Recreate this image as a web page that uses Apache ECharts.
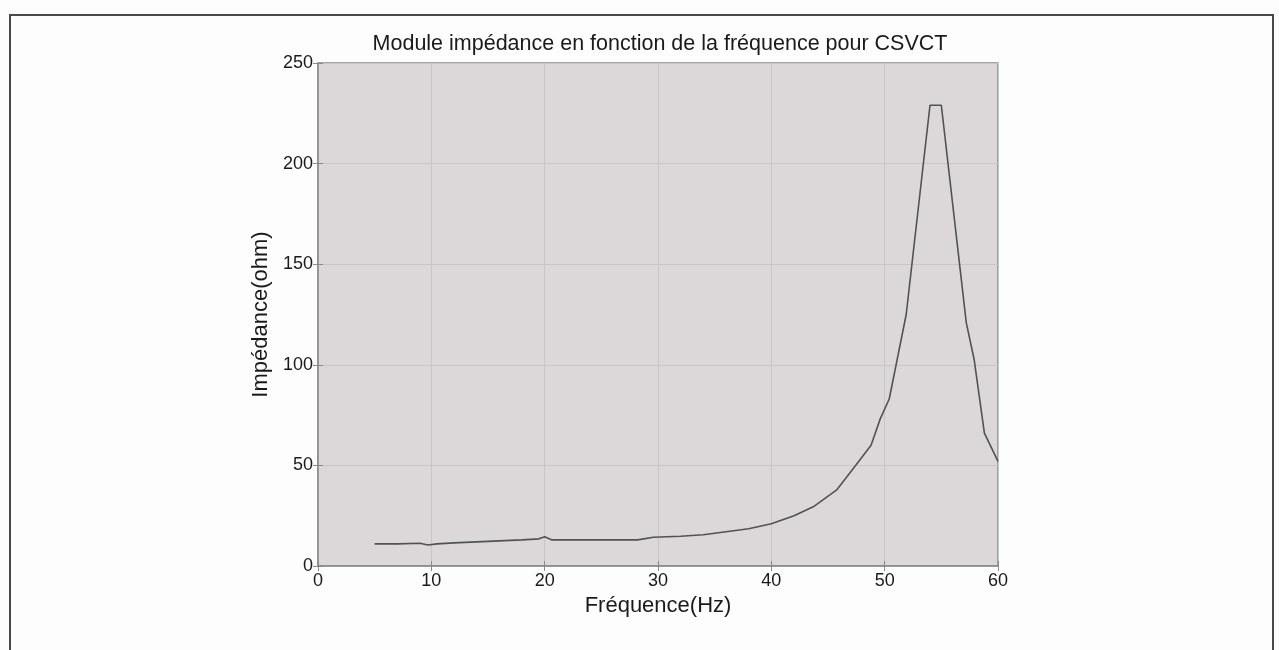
<!DOCTYPE html>
<html>
<head>
<meta charset="utf-8">
<script src="https://cdn.jsdelivr.net/npm/echarts@6/dist/echarts.min.js"></script>
<style>
html,body{margin:0;padding:0;background:#fdfdfd;}
#c{width:1279px;height:650px;}
</style>
</head>
<body>
<div id="c"></div>
<script>
var titleText = 'Module impédance en fonction de la fréquence pour CSVCT';
var xName = 'Fréquence(Hz)';
var yName = 'Impédance(ohm)';
var freq = [5, 7, 9, 9.7, 10.5, 12, 14, 16, 18, 19.5, 20, 20.6, 23, 26, 28.2, 29.6, 32, 34, 36, 38, 40, 42, 43.7, 45.8, 47.3, 48.8, 49.6, 50.4, 51.1, 51.9, 54, 55, 57.2, 57.9, 58.8, 60];
var imp  = [11, 11, 11.3, 10.4, 11, 11.5, 12, 12.5, 13, 13.5, 14.5, 13, 13, 13, 13, 14.3, 14.8, 15.5, 17, 18.5, 21, 25, 29.4, 38, 49, 60, 73, 83, 102.5, 125, 229, 229, 121, 102.5, 66, 52];
var xTicks = [0, 10, 20, 30, 40, 50, 60];
var yTicks = [0, 50, 100, 150, 200, 250];

var points = freq.map(function (f, i) { return [f, imp[i]]; });
var font = '"Liberation Sans", Arial, sans-serif';

var chart = echarts.init(document.getElementById('c'));
chart.setOption({
  animation: false,
  backgroundColor: '#fdfdfd',
  title: {
    text: titleText,
    left: 655,
    top: 28,
    textAlign: 'center',
    textStyle: { fontFamily: font, fontSize: 21.5, fontWeight: 'normal', color: '#1a1a1a' }
  },
  graphic: [
    { type: 'polyline', shape: { points: [[10, 650], [10, 15], [1273, 15], [1273, 650]] },
      style: { stroke: '#4a4a4a', lineWidth: 2, fill: null }, z: 10 }
  ],
  grid: [{
    left: 318, right: 281, top: 63, bottom: 84,
    show: true, backgroundColor: '#dcd8da', borderColor: '#8a8a8a', borderWidth: 1.5
  }],
  xAxis: [{
    type: 'value', min: xTicks[0], max: xTicks[xTicks.length - 1], interval: 10,
    name: xName, nameLocation: 'middle', nameGap: 24,
    nameTextStyle: { fontFamily: font, fontSize: 22, color: '#1a1a1a' },
    axisLine: { show: true, lineStyle: { color: '#8a8a8a', width: 1.5 } },
    axisTick: { show: true, inside: true, length: 5, lineStyle: { color: '#8a8a8a' } },
    axisLabel: { fontFamily: font, fontSize: 18, color: '#1a1a1a', margin: 6 },
    splitLine: { show: true, lineStyle: { color: '#c9c5c7', width: 1 } }
  }, {
    type: 'value', position: 'top', min: xTicks[0], max: xTicks[xTicks.length - 1], interval: 10,
    axisLine: { show: false },
    axisTick: { show: true, inside: true, length: 5, lineStyle: { color: '#8a8a8a' } },
    axisLabel: { show: false }, splitLine: { show: false }
  }],
  yAxis: [{
    type: 'value', min: yTicks[0], max: yTicks[yTicks.length - 1], interval: 50,
    name: yName, nameLocation: 'middle', nameGap: 40,
    nameTextStyle: { fontFamily: font, fontSize: 22, color: '#1a1a1a' },
    axisLine: { show: true, lineStyle: { color: '#8a8a8a', width: 1.5 } },
    axisTick: { show: true, inside: true, length: 5, lineStyle: { color: '#8a8a8a' } },
    axisLabel: { fontFamily: font, fontSize: 18, color: '#1a1a1a', margin: 5 },
    splitLine: { show: true, lineStyle: { color: '#c9c5c7', width: 1 } }
  }, {
    type: 'value', position: 'right', min: yTicks[0], max: yTicks[yTicks.length - 1], interval: 50,
    axisLine: { show: false },
    axisTick: { show: true, inside: true, length: 5, lineStyle: { color: '#8a8a8a' } },
    axisLabel: { show: false }, splitLine: { show: false }
  }],
  series: [{
    type: 'line', data: points, xAxisIndex: 0, yAxisIndex: 0,
    showSymbol: false, symbol: 'none',
    lineStyle: { color: '#525252', width: 1.6 }
  }]
});
</script>
</body>
</html>
